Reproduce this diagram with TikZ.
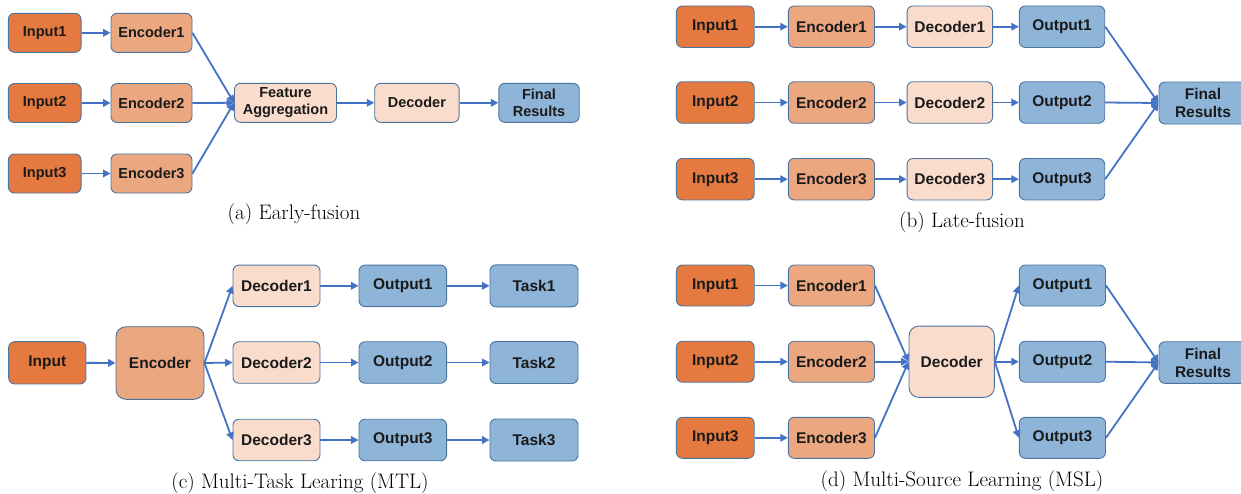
\documentclass[tikz,border=0pt]{standalone}
\usepackage{fontspec}
\newfontfamily\boxfont{Liberation Sans}
\usetikzlibrary{arrows.meta}
\definecolor{cin}{HTML}{E57A41}
\definecolor{cenc}{HTML}{EAA780}
\definecolor{cdec}{HTML}{FADCCC}
\definecolor{cout}{HTML}{8EB4D8}
\definecolor{cbrd}{HTML}{4A74A0}
\definecolor{carr}{HTML}{4472C4}
\definecolor{ctxt}{HTML}{1A1A1A}
\begin{document}
\begin{tikzpicture}[x=1pt,y=-1pt,
  box/.style={draw=cbrd, line width=0.9pt, rounded corners=6pt, inner sep=0pt,
    font=\boxfont\bfseries\fontsize{15.5}{18}\selectfont, text=ctxt, align=center},
  smalltxt/.style={font=\boxfont\bfseries\fontsize{14.5}{17}\selectfont},
  inp/.style={box, fill=cin},
  enc/.style={box, fill=cenc},
  dec/.style={box, fill=cdec},
  outb/.style={box, fill=cout},
  big/.style={rounded corners=10pt},
  arr/.style={draw=carr, line width=1.8pt, -{Triangle[length=7.5pt,width=7.5pt]}},
  captext/.style={font=\fontsize{21}{24}\selectfont, anchor=base, inner sep=0pt}]
\path[use as bounding box] (0,0) rectangle (1241,493);

% ---------------- (a) Early-fusion ----------------
\foreach \i/\y in {1/32.8,2/103,3/173.5}{
  \node[inp, smalltxt, minimum width=72.7pt, minimum height=39pt] (aIn\i) at (44.7,\y) {Input\i};
  \node[enc, smalltxt, minimum width=81pt, minimum height=39pt] (aEnc\i) at (151.5,\y) {Encoder\i};
}
\node[dec, smalltxt, minimum width=102pt, minimum height=39pt] (aFA) at (285.5,102.8) {Feature\\Aggregation};
\node[dec, smalltxt, minimum width=84.3pt, minimum height=39pt] (aDec) at (416.9,102.8) {Decoder};
\node[outb, smalltxt, minimum width=80.4pt, minimum height=39pt] (aFin) at (539,102.8) {Final\\Results};
\foreach \i in {1,2,3}{
  \draw[arr] (aIn\i) -- (aEnc\i);
  \draw[arr] (aEnc\i.east) -- (aFA.west);
}
\draw[arr] (aFA) -- (aDec);
\draw[arr] (aDec) -- (aFin);
\node[captext] (capA) at (294,219) {(a) Early-fusion};

% ---------------- (b) Late-fusion ----------------
\foreach \i/\y in {1/26.7,2/102.5,3/179.2}{
  \node[inp, minimum width=77.8pt, minimum height=41.5pt] (bIn\i) at (715.3,\y) {Input\i};
  \node[enc, minimum width=86.2pt, minimum height=41.5pt] (bEnc\i) at (831.4,\y) {Encoder\i};
  \node[dec, minimum width=85.5pt, minimum height=41.5pt] (bDec\i) at (949.8,\y) {Decoder\i};
  \node[outb, minimum width=85.4pt, minimum height=41.5pt] (bOut\i) at (1062,\y) {Output\i};
}
\node[outb, minimum width=88pt, minimum height=42pt] (bFin) at (1203,103) {Final\\Results};
\foreach \i in {1,2,3}{
  \draw[arr] (bIn\i) -- (bEnc\i);
  \draw[arr] (bEnc\i) -- (bDec\i);
  \draw[arr] (bDec\i) -- (bOut\i);
  \draw[arr] (bOut\i.east) -- (bFin.west);
}
\node[captext] (capB) at (962,227) {(b) Late-fusion};

% ---------------- (c) MTL ----------------
\node[inp, minimum width=77.3pt, minimum height=42.3pt] (cIn) at (47.3,362.8) {Input};
\node[enc, big, minimum width=88pt, minimum height=72.6pt] (cEnc) at (160,363) {Encoder};
\foreach \i/\y in {1/285.8,2/362.5,3/440}{
  \node[dec, minimum width=87pt, minimum height=41.5pt] (cDec\i) at (276.5,\y) {Decoder\i};
  \node[outb, minimum width=87.6pt, minimum height=41.5pt] (cOut\i) at (402.8,\y) {Output\i};
  \node[outb, minimum width=88pt, minimum height=42pt] (cTask\i) at (534,\y) {Task\i};
}
\draw[arr] (cIn) -- (cEnc);
\foreach \i in {1,2,3}{
  \draw[arr] (cEnc.east) -- (cDec\i.west);
  \draw[arr] (cDec\i) -- (cOut\i);
  \draw[arr] (cOut\i) -- (cTask\i);
}
\node[captext] (capC) at (300,488) {(c) Multi-Task Learing (MTL)};

% ---------------- (d) MSL ----------------
\foreach \i/\y in {1/285.5,2/361.7,3/437.8}{
  \node[inp, minimum width=77.8pt, minimum height=41pt] (dIn\i) at (715.3,\y) {Input\i};
  \node[enc, minimum width=86.2pt, minimum height=41pt] (dEnc\i) at (831.4,\y) {Encoder\i};
  \node[outb, minimum width=86.2pt, minimum height=41pt] (dOut\i) at (1062.4,\y) {Output\i};
}
\node[dec, big, minimum width=85.4pt, minimum height=71.3pt] (dDec) at (951.7,361.7) {Decoder};
\node[outb, minimum width=88pt, minimum height=41.6pt] (dFin) at (1203,362.5) {Final\\Results};
\foreach \i in {1,2,3}{
  \draw[arr] (dIn\i) -- (dEnc\i);
  \draw[arr] (dEnc\i.east) -- (dDec.west);
  \draw[arr] (dDec.east) -- (dOut\i.west);
  \draw[arr] (dOut\i.east) -- (dFin.west);
}
\node[captext] (capD) at (962,486) {(d) Multi-Source Learning (MSL)};
\end{tikzpicture}
\end{document}
